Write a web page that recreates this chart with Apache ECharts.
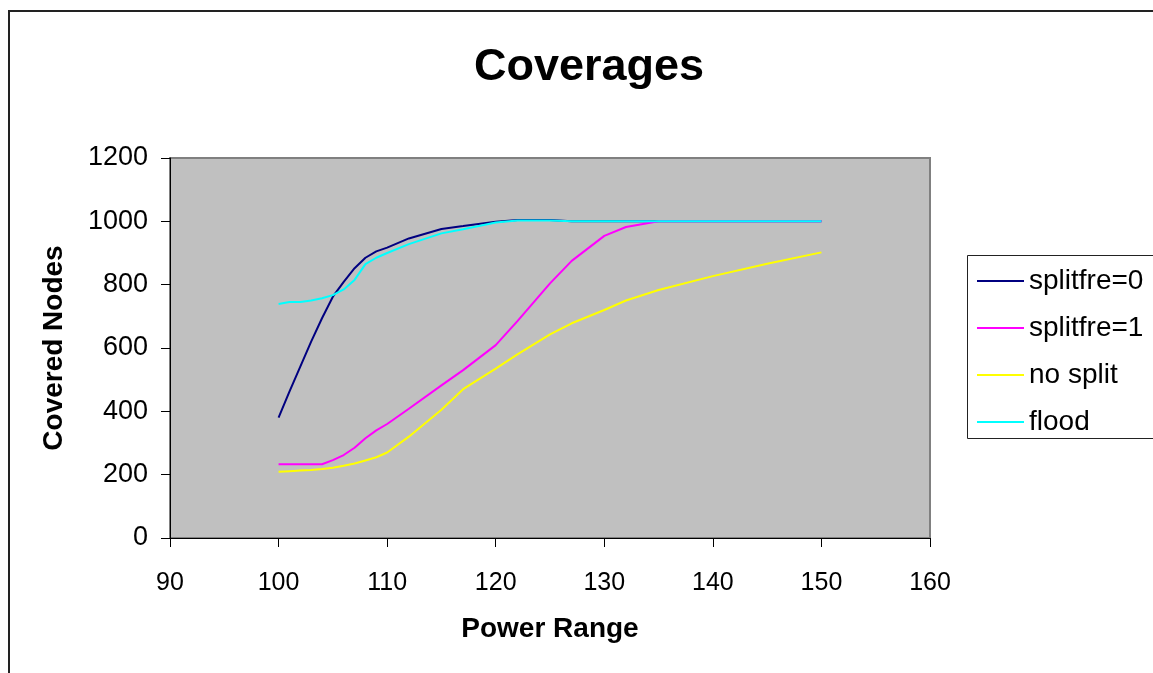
<!DOCTYPE html>
<html>
<head>
<meta charset="utf-8">
<title>Coverages</title>
<script src="https://cdn.jsdelivr.net/npm/echarts@6/dist/echarts.min.js"></script>
<style>
  html, body { margin: 0; padding: 0; background: #ffffff; }
  #chart { width: 1153px; height: 673px; }
</style>
</head>
<body>
<div id="chart"></div>
<script>
// Power range sample points (shared by all series)
const powerRange = [100, 101, 102, 103, 104, 105, 106, 107, 108, 109, 110, 112, 115, 117, 120, 122, 125, 127, 130, 132, 135, 140, 145, 150];

// Covered nodes per series
const splitfre0 = [380, 462, 541, 620, 694, 762, 809, 852, 885, 905, 917, 946, 976, 985, 999, 1004, 1004, 1000, 1000, 1000, 1000, 1000, 1000, 1000];
const splitfre1 = [233, 233, 233, 233, 233, 246, 262, 285, 315, 340, 360, 408, 482, 530, 609, 685, 804, 875, 954, 982, 1000, 1000, 1000, 1000];
const noSplit   = [209, 211, 213, 215, 218, 222, 228, 235, 245, 255, 270, 320, 405, 470, 535, 580, 643, 678, 720, 750, 783, 827, 866, 902];
const flood     = [739, 745, 745, 750, 757, 767, 785, 815, 865, 885, 900, 928, 962, 975, 996, 1003, 1003, 1000, 1000, 1000, 1000, 1000, 1000, 1000];

const seriesNames = ['splitfre=0', 'splitfre=1', 'no split', 'flood'];
const seriesValues = [splitfre0, splitfre1, noSplit, flood];
const seriesColors = ['#000080', '#ff00ff', '#ffff00', '#00ffff'];

// Axis ranges and tick steps
const xMin = 90, xMax = 160, xStep = 10;
const yMin = 0, yMax = 1200, yStep = 200;

const FONT = '"Liberation Sans", Arial, Helvetica, sans-serif';

const chart = echarts.init(document.getElementById('chart'), null, { renderer: 'canvas' });

const series = seriesNames.map((name, i) => ({
  name: name,
  type: 'line',
  data: powerRange.map((x, j) => [x, seriesValues[i][j]]),
  showSymbol: false,
  symbol: 'none',
  animation: false,
  color: seriesColors[i],
  lineStyle: { color: seriesColors[i], width: 2 }
}));

chart.setOption({
  animation: false,
  backgroundColor: '#ffffff',
  textStyle: { fontFamily: FONT },
  title: {
    text: 'Coverages',
    left: 584,
    textAlign: 'center',
    top: 40,
    textStyle: { fontFamily: FONT, fontSize: 45, fontWeight: 'bold', color: '#000' }
  },
  graphic: [
    {
      // outer frame of the chart area
      type: 'rect',
      shape: { x: 9, y: 11, width: 1200, height: 700 },
      style: { fill: 'none', stroke: '#222', lineWidth: 2 },
      silent: true,
      z: -1
    },
    {
      // legend frame
      type: 'rect',
      shape: { x: 967.5, y: 255.5, width: 200, height: 183 },
      style: { fill: '#fff', stroke: '#222', lineWidth: 1 },
      silent: true,
      z: 0
    }
  ],
  legend: {
    orient: 'vertical',
    left: 977,
    top: 266,
    padding: 0,
    icon: 'rect',
    itemWidth: 47,
    itemHeight: 2,
    itemGap: 17,
    itemTextGap: 8,
    z: 5,
    textStyle: { fontFamily: FONT, fontSize: 28, color: '#000', lineHeight: 30 },
    data: seriesNames
  },
  grid: {
    left: 170, top: 158, width: 760, height: 380,
    show: true,
    backgroundColor: '#c0c0c0',
    borderColor: '#808080',
    borderWidth: 2
  },
  xAxis: {
    type: 'value',
    min: xMin, max: xMax, interval: xStep,
    name: 'Power Range',
    nameLocation: 'middle',
    nameGap: 77,
    nameTextStyle: { fontFamily: FONT, fontSize: 28, fontWeight: 'bold', color: '#000' },
    axisLine: { show: true, onZero: false, lineStyle: { color: '#000', width: 1 } },
    axisTick: { show: true, inside: false, length: 9, lineStyle: { color: '#000' } },
    axisLabel: { margin: 33, fontFamily: FONT, fontSize: 25, color: '#000' },
    splitLine: { show: false }
  },
  yAxis: {
    type: 'value',
    min: yMin, max: yMax, interval: yStep,
    name: 'Covered Nodes',
    nameLocation: 'middle',
    nameGap: 102,
    nameTextStyle: { fontFamily: FONT, fontSize: 28, fontWeight: 'bold', color: '#000' },
    axisLine: { show: true, lineStyle: { color: '#000', width: 1 } },
    axisTick: { show: true, inside: false, length: 9, lineStyle: { color: '#000' } },
    axisLabel: { margin: 22, fontFamily: FONT, fontSize: 27, color: '#000', formatter: v => String(v) },
    splitLine: { show: false }
  },
  series: series
});
</script>
</body>
</html>
